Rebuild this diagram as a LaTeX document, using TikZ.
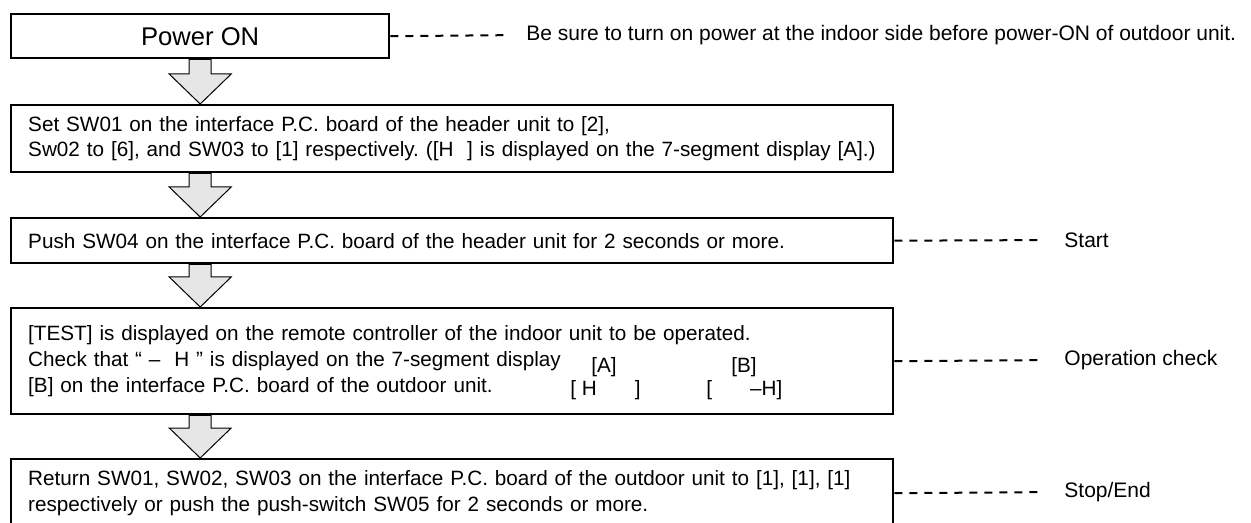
\documentclass[tikz,border=0pt]{standalone}
\usepackage{fontspec}
\setmainfont{Liberation Sans}
\usepackage{tikz}
\usetikzlibrary{calc, backgrounds}
\definecolor{arrowgray}{HTML}{E6E6E6}
\frenchspacing
\tikzset{
  stepbox/.style={draw=black, line width=1.2pt, anchor=north west,
    minimum width=441pt, inner xsep=8.5pt, text width=424pt, align=left,
    font=\fontsize{10.35}{12.8}\selectfont},
  startbox/.style={draw=black, line width=1.2pt, anchor=north west,
    minimum width=189pt, minimum height=22pt, align=center,
    font=\fontsize{12.8}{15}\selectfont},
  note/.style={anchor=west, inner sep=0pt, font=\fontsize{10.5}{12.8}\selectfont},
  disp/.style={inner sep=0pt, font=\fontsize{10.35}{12.8}\selectfont},
  leader/.style={dash pattern=on 4pt off 3.5pt, line width=1pt, shorten >=10pt},
  blockarrow/.style={draw=black, line width=0.5pt, fill=arrowgray, line join=miter},
}
\newcommand{\flowArrow}[2]{%
  \coordinate (arrtop) at (power.south |- #1.south);
  \coordinate (arrtip) at (power.south |- #2.north);
  \draw[blockarrow] ($(arrtop)+(-11,0)$) -- ($(arrtip)+(-11,-30)$)
    -- ($(arrtip)+(-31,-30)$) -- (arrtip) -- ($(arrtip)+(31,-30)$)
    -- ($(arrtip)+(11,-30)$) -- ($(arrtop)+(11,0)$) -- cycle;
}

\begin{document}
\begin{tikzpicture}[x=0.5pt, y=-0.5pt]
  \useasboundingbox (0,0) rectangle (1251,523);

  % Steps
  \node[startbox] (power) at (10,13) {Power ON};
  \node[stepbox, minimum height=33.5pt] (setsw) at (10,104)
    {Set SW01 on the interface P.C. board of the header unit to [2],\\
     Sw02 to [6], and SW03 to [1] respectively. ([H\ \ ] is displayed on the 7-segment display [A].)};
  \node[stepbox, minimum height=22.5pt] (push) at (10,217)
    {Push SW04 on the interface P.C. board of the header unit for 2 seconds or more.};
  \node[stepbox, minimum height=53pt] (test) at (10,307)
    {[TEST] is displayed on the remote controller of the indoor unit to be operated.\\
     Check that “ –\ \ H ” is displayed on the 7-segment display\\{}%
     [B] on the interface P.C. board of the outdoor unit.};
  \node[stepbox, minimum height=34pt] (ret) at (10,458)
    {Return SW01, SW02, SW03 on the interface P.C. board of the outdoor unit to [1], [1], [1]\\
     respectively or push the push-switch SW05 for 2 seconds or more.};

  % 7-segment readings
  \node[disp, anchor=base] (segA) at (604,372) {[A]};
  \node[disp, anchor=base] (segB) at (744,372) {[B]};
  \node[disp, anchor=base west] (segAval) at (570,395) {[ H\hspace{19pt}]};
  \node[disp, anchor=base west] (segBval) at (706,395) {[\hspace{19pt}\textendash H]};

  % Notes
  \node[note] (powernote) at (526,35)
    {Be sure to turn on power at the indoor side before power-ON of outdoor unit.};
  \node[note] (startnote) at (1064,240) {Start};
  \node[note] (checknote) at (1064,360) {Operation check};
  \node[note] (endnote) at (1064,492) {Stop/End};

  \draw[leader] (power.east) -- (powernote.west);
  \draw[leader] (push.east) -- (startnote.west);
  \draw[leader] (test.east) -- (checknote.west);
  \draw[leader] (ret.east) -- (endnote.west);

  % Block arrows
  \begin{pgfonlayer}{background}
    \flowArrow{power}{setsw}
    \flowArrow{setsw}{push}
    \flowArrow{push}{test}
    \flowArrow{test}{ret}
  \end{pgfonlayer}
\end{tikzpicture}
\end{document}
